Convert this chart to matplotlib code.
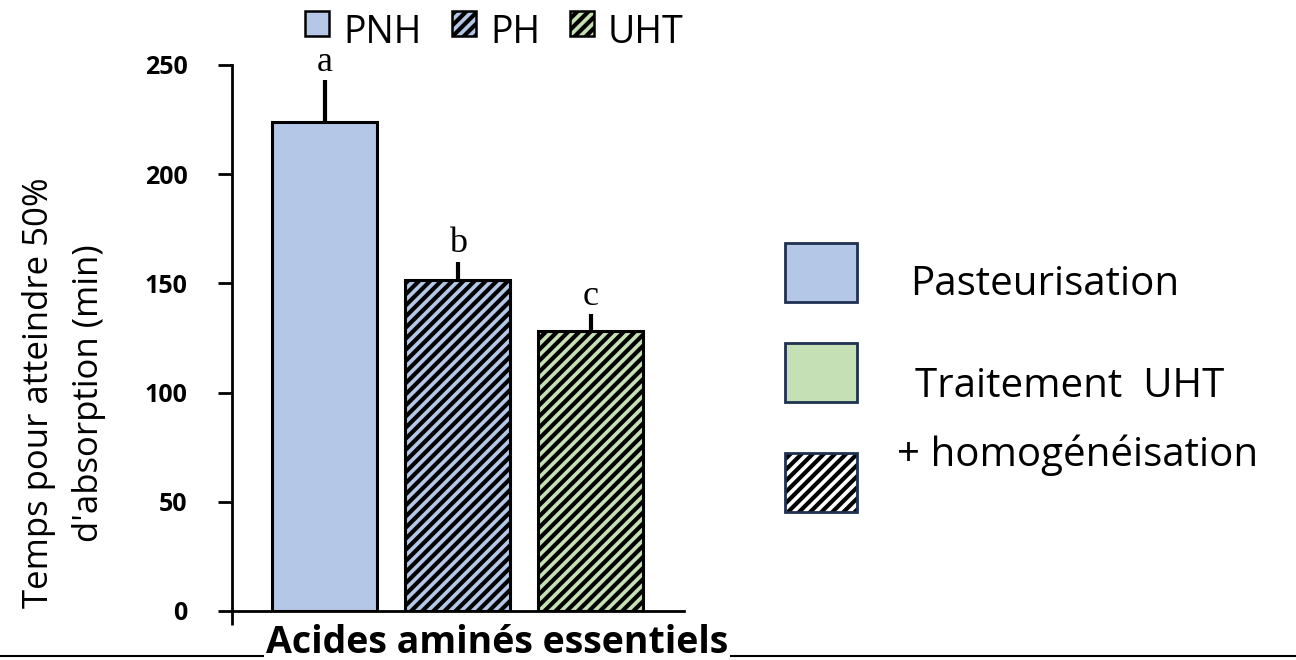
import matplotlib
matplotlib.use("Agg")
import matplotlib.pyplot as plt
from matplotlib.patches import Rectangle
from matplotlib.lines import Line2D

groups = ["PNH", "PH", "UHT"]
values = [224, 151.5, 128]
err_up = [19, 8.5, 8]
letters = ["a", "b", "c"]
yticks = [0, 50, 100, 150, 200, 250]
colors = ["#B4C7E7", "#B4C7E7", "#C5E0B4"]
hatches = ["", "///", "///"]
xlabel = "Acides aminés essentiels"
ylabel = "Temps pour atteindre 50%\nd'absorption (min)"
side_labels = ["Pasteurisation", "Traitement  UHT", "+ homogénéisation"]

plt.rcParams["hatch.linewidth"] = 3.0
plt.rcParams["hatch.color"] = "black"

W, H = 1296, 660
fig = plt.figure(figsize=(W / 100, H / 100), dpi=100)

def fx(px):
    return px / W

def fy(py):
    return 1 - py / H

ax_left, ax_right, ax_top, ax_bot = 232, 684, 65, 611
ax = fig.add_axes([fx(ax_left), fy(ax_bot), fx(ax_right - ax_left), (ax_bot - ax_top) / H])

x = list(range(len(groups)))
bars = ax.bar(x, values, width=0.79, color=colors, edgecolor="black", linewidth=2.2,
              label=groups, zorder=2)
for b, h in zip(bars, hatches):
    b.set_hatch(h)
ax.errorbar(x, values, yerr=[[0] * 3, err_up], fmt="none", ecolor="black",
            elinewidth=3, capsize=0, zorder=3)
for xi, v, e, l in zip(x, values, err_up, letters):
    ax.text(xi, v + e + 0.5, l, ha="center", va="bottom", fontsize=26,
            family="Liberation Serif")

ax.set_xlim(-0.695, 2.70)
ax.set_ylim(0, 250)
ax.set_yticks(yticks)
ax.set_yticklabels([str(t) for t in yticks], fontsize=18, fontweight="bold", family="Open Sans")
ax.set_xticks([-0.695])
ax.set_xticklabels([""])
ax.tick_params(axis="x", length=10, width=2, direction="out")
ax.tick_params(axis="y", length=10, width=2, direction="out", pad=22)
for s in ["top", "right"]:
    ax.spines[s].set_visible(False)
ax.spines["left"].set_linewidth(2)
ax.spines["bottom"].set_linewidth(2)

fig.text(fx(64), fy(393), ylabel, rotation=90, ha="center", va="center",
         multialignment="center", fontsize=25, family="Open Sans", linespacing=1.6)

# bottom line with x label
fig.add_artist(Line2D([0, 1], [fy(656), fy(656)], color="black", lw=1.5))
fig.text(fx(497), fy(653), xlabel, ha="center", va="baseline", fontsize=27,
         fontweight="bold", family="Open Sans",
         bbox=dict(facecolor="white", edgecolor="none", pad=1))

# top legend
leg_patches = [(305, groups[0], colors[0], ""), (452, groups[1], colors[1], "///"),
               (570, groups[2], colors[2], "///")]
for px, lab, c, h in leg_patches:
    r = Rectangle((fx(px), fy(36)), fx(24), 25 / H, transform=fig.transFigure,
                  facecolor=c, edgecolor="black", linewidth=1.8, hatch=h)
    fig.add_artist(r)
    fig.text(fx(px + 38), fy(33), lab, ha="left", va="center", fontsize=27, family="Open Sans")

# side legend
side = [(243, "#B4C7E7", ""), (343, "#C5E0B4", ""), (453, "white", "///")]
for py, c, h in side:
    if h:
        fig.add_artist(Rectangle((fx(785), fy(py + 59)), fx(72), 59 / H,
                                 transform=fig.transFigure, facecolor=c,
                                 edgecolor="black", linewidth=0, hatch=h))
        c = "none"
    fig.add_artist(Rectangle((fx(785), fy(py + 59)), fx(72), 59 / H,
                             transform=fig.transFigure, facecolor=c,
                             edgecolor="#1F3050", linewidth=2))
fig.text(fx(910), fy(285), side_labels[0], ha="left", va="center", fontsize=29, family="Open Sans")
fig.text(fx(915), fy(387), side_labels[1], ha="left", va="center", fontsize=29, family="Open Sans")
fig.text(fx(897), fy(455), side_labels[2], ha="left", va="center", fontsize=29, family="Open Sans")

fig.savefig("out.png", dpi=100)
